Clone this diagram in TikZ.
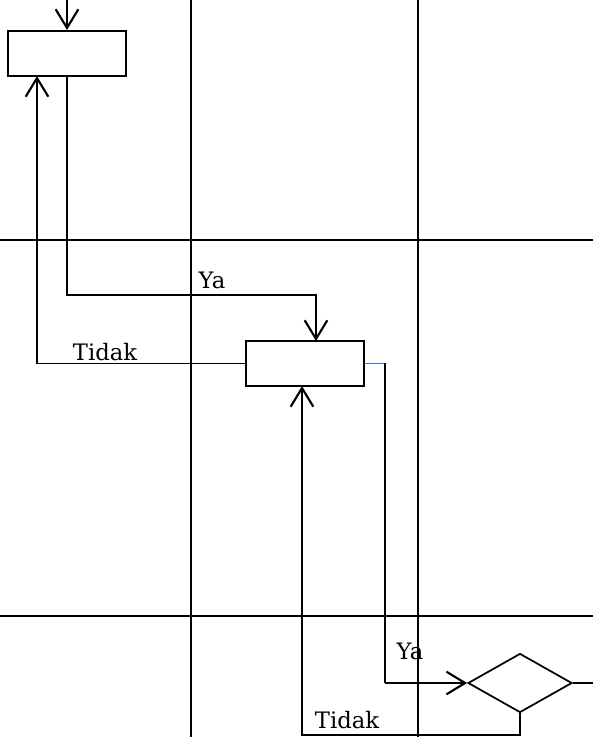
\documentclass[tikz,border=0pt]{standalone}
\usepackage{fontspec}
\setmainfont{DejaVu Serif}
\usetikzlibrary{arrows.meta,shapes.geometric}
\definecolor{lineblue}{RGB}{68,114,196}
\tikzset{
  grid/.style={line width=1.5pt},
  box/.style={draw,line width=1.5pt,fill=white,minimum width=88.5pt,minimum height=33.75pt,inner sep=0pt},
  dec/.style={draw,diamond,line width=1.3pt,fill=white,minimum width=78pt,minimum height=44.25pt,inner sep=0pt},
  conn/.style={line width=1.3pt},
  arr/.style={line width=1.6pt,-{Straight Barb[length=14pt,width=17pt,line width=1.6pt]}},
  lbl/.style={font=\fontsize{17pt}{19pt}\selectfont,inner sep=0pt}
}
\begin{document}
\begin{tikzpicture}[x=0.75pt,y=-0.75pt]
\useasboundingbox (0,0) rectangle (593,737);
% lanes
\draw[grid] (191,0) -- (191,737);
\draw[grid] (418,0) -- (418,737);
\draw[grid] (0,240) -- (593,240);
\draw[grid] (0,616) -- (593,616);
% nodes
\node[box] (b1) at (67,53.5) {};
\node[box] (b2) at (305,363.5) {};
\node[dec] (d1) at (520,683) {};
\coordinate (top) at (67,0);
\coordinate (dout) at (593,683);
% connectors
\draw[arr] (top) -- (b1.north);
\draw[conn] (b1.south) -- (67,295) -- (316,295);
\draw[arr] (316,294.5) -- (316,341);
\draw[conn] (b2.west) -- (37,363.5);
\draw[arr] (37,364) -- (37,76);
\draw[conn,lineblue] (b2.east) -- (385,363.5);
\draw[conn] (385,363) -- (385,683);
\draw[arr] (384.5,683) -- (d1.west);
\draw[conn] (d1.east) -- (dout);
\draw[conn] (d1.south) -- (520,735) -- (302,735);
\draw[arr] (302,735.5) -- (302,386);
% labels
\node[lbl] (ya1) at (212,280) {Ya};
\node[lbl] (td1) at (105,352) {Tidak};
\node[lbl] (ya2) at (410,651) {Ya};
\node[lbl] (td2) at (347,720) {Tidak};
\end{tikzpicture}
\end{document}
